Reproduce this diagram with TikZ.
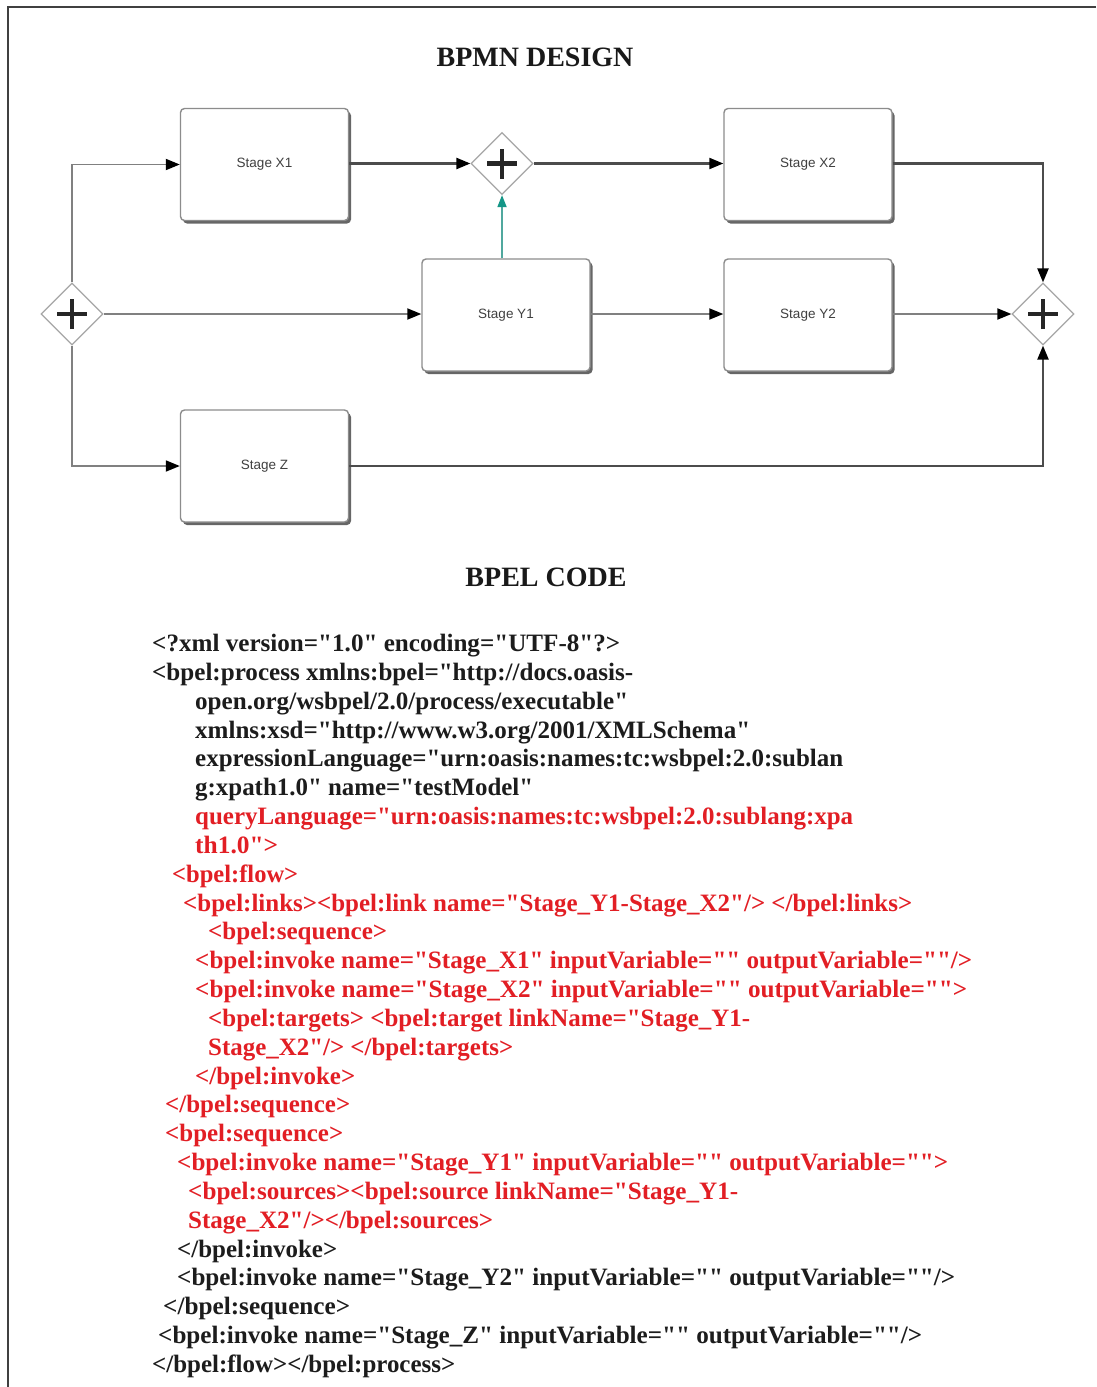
\documentclass[tikz,border=0pt]{standalone}
\usepackage{fontspec}
\setmainfont{Liberation Serif}
\newfontfamily\codefont{Liberation Serif}[Ligatures=TeXOff]
\newfontfamily\boxfont{Liberation Sans}
\usetikzlibrary{arrows.meta,shapes.geometric,shadows}
\definecolor{codered}{RGB}{226,30,36}
\definecolor{codeblack}{RGB}{28,28,28}
\definecolor{tealline}{RGB}{80,168,158}
\definecolor{tealtip}{RGB}{20,150,135}
\newcommand{\codeln}[6]{\node[codetxt,text=#4] (#1) at (#2,#3) {\resizebox{#5pt}{\height}{#6}};}
\begin{document}
\begin{tikzpicture}[x=1pt,y=-1pt,
  frame/.style={draw=black!75,line width=2pt},
  title/.style={font=\bfseries\fontsize{28}{32}\selectfont,text=black!90,inner sep=0pt},
  stagebox/.style={rectangle,rounded corners=4pt,draw=black!45,line width=1.4pt,fill=white,
     minimum width=168pt,minimum height=112pt,inner sep=0pt,
     font=\boxfont\fontsize{13.5}{15}\selectfont,text=black!75,
     drop shadow={shadow xshift=2.5pt,shadow yshift=-3pt,fill=black!70,opacity=0.85}},
  gate/.style={diamond,draw=black!35,line width=1.2pt,fill=white,
     minimum width=62pt,minimum height=62pt,inner sep=0pt,
     path picture={
       \draw[line width=4.8pt,black!85] ([xshift=-15pt]path picture bounding box.center) -- ([xshift=15pt]path picture bounding box.center);
       \draw[line width=4.8pt,black!85] ([yshift=-15pt]path picture bounding box.center) -- ([yshift=15pt]path picture bounding box.center);}},
  flow/.style={draw=black!70,line width=2.2pt,-{Triangle[length=14pt,width=11pt,color=black]}},
  flowlight/.style={draw=black!50,line width=1.8pt,-{Triangle[length=14pt,width=11pt,color=black]}},
  tealflow/.style={draw=tealline,line width=1.7pt,-{Triangle[length=12pt,width=9pt,color=tealtip]}},
  codetxt/.style={anchor=base west,inner sep=0pt,font=\codefont\bfseries\fontsize{25}{29}\selectfont}
]
\fill[white] (0,0) rectangle (1096,1387);
\useasboundingbox (0,0) rectangle (1096,1387);
\draw[frame] (1096,7) -- (8,7) -- (8,1387);

\node[title] (t1) at (535,57.5) {BPMN DESIGN};
\node[title] (t2) at (546,577) {BPEL CODE};

% BPMN nodes
\node[stagebox] (x1) at (264.5,164.5) {Stage X1};
\node[stagebox] (x2) at (808,164.5) {Stage X2};
\node[stagebox] (y1) at (506,315) {Stage Y1};
\node[stagebox] (y2) at (808,315) {Stage Y2};
\node[stagebox] (z)  at (264.5,466) {Stage Z};
\node[gate] (g1) at (72,314) {};
\node[gate] (g2) at (502,163.5) {};
\node[gate] (g3) at (1043,314) {};

% connectors
\draw[flowlight] (g1.north) |- (x1.west);
\draw[flowlight] (g1.east) -- (g1.east -| y1.west);
\draw[flowlight] (g1.south) |- (z.west);
\draw[flow] (x1.east |- g2.west) -- (g2.west);
\draw[flow] (g2.east) -- (g2.east -| x2.west);
\draw[tealflow] (g2.south |- y1.north) -- (g2.south);
\draw[flowlight] (y1.east |- g1.east) -- (y1.east |- g1.east -| y2.west);
\draw[flowlight] (y2.east |- g3.west) -- (g3.west);
\draw[flow] (x2.east |- g2.east) -| (g3.north);
\draw[flow] (z.east) -| (g3.south);

% BPEL code
\codeln{l1}{152}{651}{codeblack}{468}{<?xml version="1.0" encoding="UTF-8"?>}
\codeln{l2}{152}{680}{codeblack}{481}{<bpel:process xmlns:bpel="http://docs.oasis-}
\codeln{l3}{195}{709}{codeblack}{433}{open.org/wsbpel/2.0/process/executable"}
\codeln{l4}{195}{738}{codeblack}{555}{xmlns:xsd="http://www.w3.org/2001/XMLSchema"}
\codeln{l5}{195}{766}{codeblack}{648}{expressionLanguage="urn:oasis:names:tc:wsbpel:2.0:sublan}
\codeln{l6}{195}{795}{codeblack}{338}{g:xpath1.0" name="testModel"}
\codeln{l7}{195}{824}{codered}{658}{queryLanguage="urn:oasis:names:tc:wsbpel:2.0:sublang:xpa}
\codeln{l8}{195}{853}{codered}{83}{th1.0">}
\codeln{l9}{172}{882}{codered}{126}{<bpel:flow>}
\codeln{l10}{183}{911}{codered}{729}{<bpel:links><bpel:link name="Stage\_Y1-Stage\_X2"/> </bpel:links>}
\codeln{l11}{208}{939}{codered}{179}{<bpel:sequence>}
\codeln{l12}{195}{968}{codered}{777}{<bpel:invoke name="Stage\_X1" inputVariable="" outputVariable=""/>}
\codeln{l13}{195}{997}{codered}{772}{<bpel:invoke name="Stage\_X2" inputVariable="" outputVariable="">}
\codeln{l14}{208}{1026}{codered}{542}{<bpel:targets> <bpel:target linkName="Stage\_Y1-}
\codeln{l15}{208}{1055}{codered}{305}{Stage\_X2"/> </bpel:targets>}
\codeln{l16}{195}{1084}{codered}{160}{</bpel:invoke>}
\codeln{l17}{165}{1112}{codered}{185}{</bpel:sequence>}
\codeln{l18}{165}{1141}{codered}{178}{<bpel:sequence>}
\codeln{l19}{177}{1170}{codered}{771}{<bpel:invoke name="Stage\_Y1" inputVariable="" outputVariable="">}
\codeln{l20}{188}{1199}{codered}{550}{<bpel:sources><bpel:source linkName="Stage\_Y1-}
\codeln{l21}{188}{1228}{codered}{305}{Stage\_X2"/></bpel:sources>}
\codeln{l22}{177}{1257}{codeblack}{160}{</bpel:invoke>}
\codeln{l23}{177}{1285}{codeblack}{778}{<bpel:invoke name="Stage\_Y2" inputVariable="" outputVariable=""/>}
\codeln{l24}{163}{1314}{codeblack}{187}{</bpel:sequence>}
\codeln{l25}{158}{1343}{codeblack}{764}{<bpel:invoke name="Stage\_Z" inputVariable="" outputVariable=""/>}
\codeln{l26}{152}{1372}{codeblack}{303}{</bpel:flow></bpel:process>}
\end{tikzpicture}
\end{document}
